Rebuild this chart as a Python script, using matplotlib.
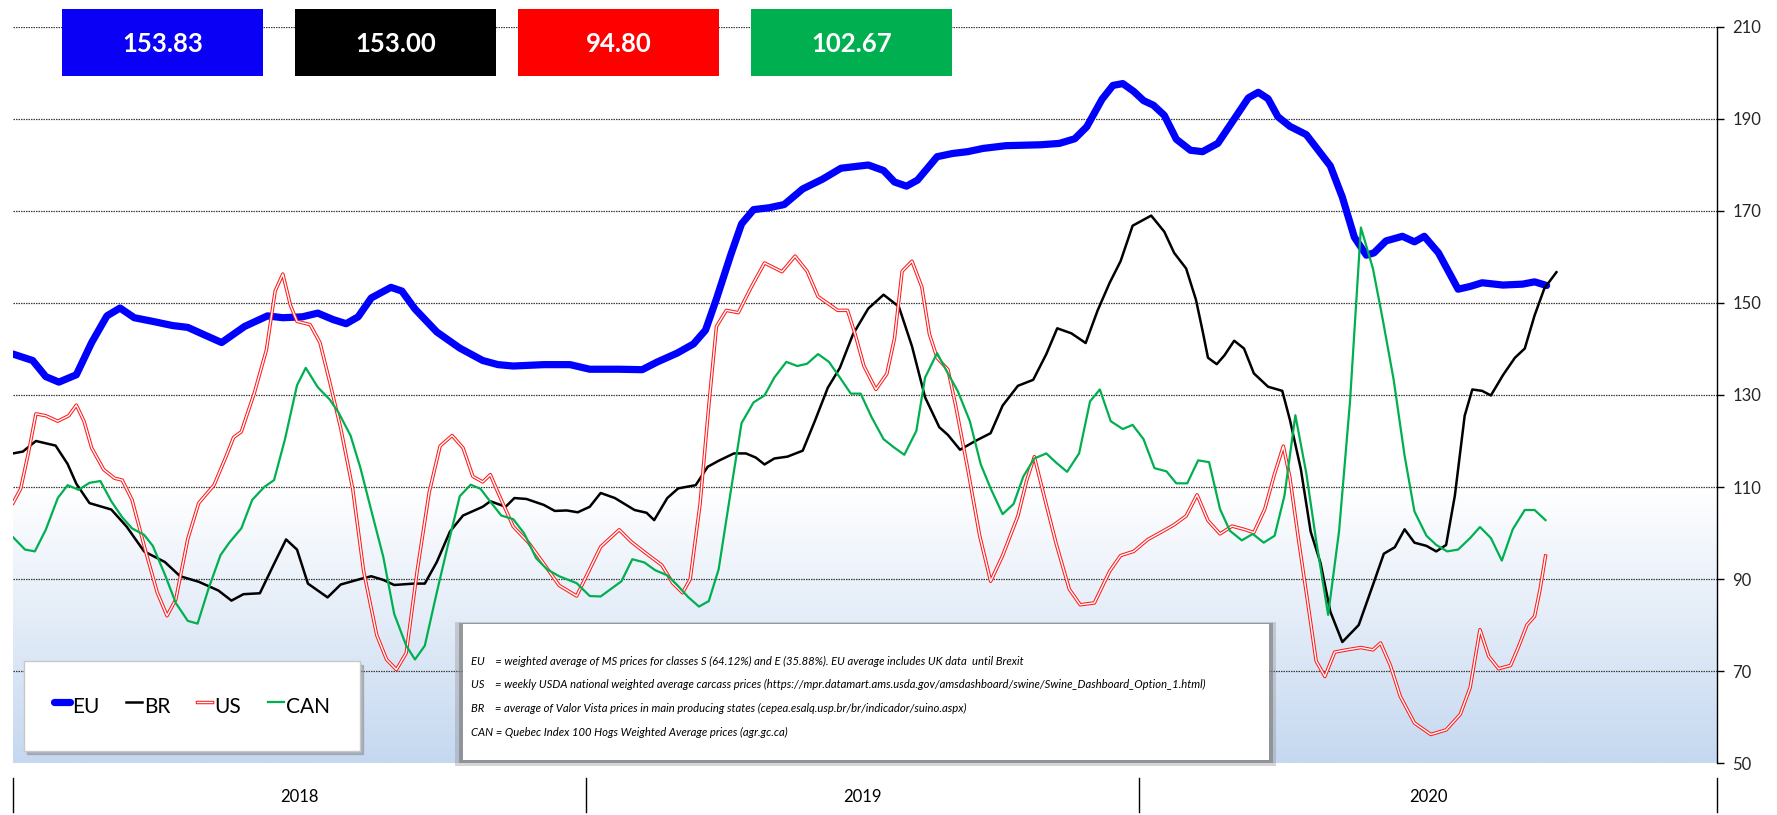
import numpy as np
import matplotlib
matplotlib.use("Agg")
import matplotlib.pyplot as plt
from matplotlib import font_manager as fm
from matplotlib.patches import Rectangle
from matplotlib.colors import LinearSegmentedColormap
import matplotlib.patheffects as pe

# ---------------- data ----------------
series_names = ["EU", "BR", "US", "CAN"]
latest_values = [153.83, 153.00, 94.80, 102.67]
years = ["2018", "2019", "2020"]
year_bounds = [0, 52.5, 103.1, 156]          # week positions of the year separators
y_ticks = [50, 70, 90, 110, 130, 150, 170, 190, 210]

eu_weeks = [0.0, 1.8, 3.0, 4.2, 5.8, 7.2, 8.6, 9.8, 11.1, 12.8, 14.6, 16.0, 17.4, 19.1, 21.2,
            23.3, 24.7, 26.5, 27.9, 29.3, 30.5, 31.6, 32.8, 34.6, 35.6, 36.8, 38.8, 40.9, 43.0,
            44.4, 45.8, 48.6, 51.0, 52.8, 55.5, 57.6, 59.0, 60.8, 62.3, 63.4, 64.4, 65.7, 66.7,
            67.8, 69.2, 70.6, 72.3, 74.1, 75.8, 78.3, 79.7, 80.7, 81.8, 82.8, 84.6, 86.0, 87.4,
            88.8, 90.9, 94.1, 95.8, 97.2, 98.3, 99.7, 100.7, 101.6, 102.6, 103.5, 104.4, 105.4,
            106.5, 107.8, 108.9, 110.3, 111.8, 113.1, 114.0, 114.9, 115.8, 116.9, 118.4, 119.5,
            120.6, 121.7, 122.8, 123.9, 124.6, 125.7, 127.2, 128.3, 129.2, 130.5, 132.3, 133.4,
            134.5, 136.4, 138.2, 139.3, 140.4]
eu_values = [138.9, 137.5, 134.0, 132.8, 134.4, 141.4, 147.2, 148.9, 146.8, 146.0, 145.1, 144.7,
             143.2, 141.4, 144.9, 147.2, 146.8, 147.0, 147.8, 146.4, 145.5, 147.0, 151.1, 153.4,
             152.6, 148.7, 143.7, 140.2, 137.5, 136.6, 136.3, 136.6, 136.6, 135.6, 135.6, 135.5,
             137.2, 139.1, 141.1, 144.1, 150.9, 160.4, 167.2, 170.3, 170.7, 171.4, 174.8, 176.9,
             179.3, 180.0, 178.8, 176.3, 175.4, 176.7, 181.8, 182.5, 182.9, 183.6, 184.2, 184.4,
             184.7, 185.7, 188.3, 194.3, 197.3, 197.7, 196.0, 194.0, 193.0, 190.8, 185.6, 183.2,
             182.9, 184.7, 190.0, 194.6, 195.8, 194.4, 190.5, 188.4, 186.6, 183.2, 179.8, 173.0,
             164.3, 160.4, 160.9, 163.5, 164.5, 163.3, 164.5, 160.9, 153.0, 153.6, 154.4, 153.9,
             154.1, 154.6, 153.8]

br_weeks = [0.0, 0.9, 2.1, 3.9, 5.0, 5.8, 7.0, 9.0, 10.4, 12.0, 13.9, 15.3, 17.0, 18.8, 20.0,
            21.1, 22.6, 23.9, 25.0, 26.0, 27.0, 28.8, 30.0, 31.8, 32.8, 33.9, 34.9, 36.7, 37.7,
            38.8, 40.0, 41.2, 43.0, 43.7, 45.1, 45.9, 47.0, 48.6, 49.6, 50.7, 51.7, 52.8, 53.8,
            55.1, 56.9, 58.0, 58.7, 59.9, 60.9, 62.5, 63.6, 64.6, 66.0, 67.1, 68.0, 68.8, 69.7,
            70.9, 72.3, 73.4, 74.6, 75.7, 76.9, 78.3, 79.7, 81.1, 82.3, 83.5, 84.8, 85.6, 86.7,
            88.1, 89.5, 90.6, 92.0, 93.4, 94.6, 95.6, 96.9, 98.2, 99.3, 100.4, 101.4, 102.5,
            104.2, 105.4, 106.3, 107.4, 108.3, 108.9, 109.4, 110.2, 110.9, 111.8, 112.7, 113.6,
            114.9, 116.2, 116.9, 117.9, 118.8, 119.7, 120.6, 121.7, 123.2, 124.5, 125.5, 126.5,
            127.4, 128.3, 129.4, 130.3, 131.2, 132.0, 132.9, 133.6, 134.5, 135.3, 136.4, 137.5,
            138.4, 139.3, 140.2, 141.3]
br_values = [117.3, 117.7, 120.0, 119.0, 115.0, 110.7, 106.5, 105.1, 101.4, 96.0, 93.7, 90.6,
             89.4, 87.5, 85.3, 86.7, 86.9, 93.3, 98.6, 96.4, 89.0, 86.0, 88.8, 90.0, 90.6, 89.8,
             88.7, 89.0, 89.0, 93.7, 100.3, 103.8, 105.7, 106.9, 105.7, 107.6, 107.4, 106.1,
             104.8, 104.9, 104.5, 105.7, 108.7, 107.6, 105.0, 104.4, 102.8, 107.6, 109.7, 110.4,
             114.4, 115.7, 117.3, 117.3, 116.4, 114.9, 116.2, 116.6, 117.9, 124.3, 131.6, 135.9,
             143.2, 148.8, 151.8, 149.2, 140.6, 129.5, 123.0, 121.3, 118.1, 120.0, 121.7, 127.7,
             132.0, 133.3, 138.9, 144.5, 143.4, 141.3, 148.4, 154.4, 159.1, 166.8, 169.0, 165.5,
             160.9, 157.5, 150.7, 144.0, 138.1, 136.7, 138.6, 141.8, 140.1, 134.7, 131.8, 130.9,
             124.6, 113.9, 100.3, 93.5, 82.9, 76.3, 80.0, 88.7, 95.5, 96.9, 100.8, 97.9, 97.2,
             96.0, 97.4, 108.1, 125.5, 131.2, 130.9, 129.9, 134.3, 138.1, 140.1, 147.3, 153.2,
             156.7]

us_weeks = [0.0, 0.7, 1.4, 2.1, 3.0, 4.1, 5.1, 5.8, 6.5, 7.2, 8.3, 9.3, 10.0, 10.9, 12.1, 13.2,
            14.1, 14.9, 16.0, 17.0, 18.4, 19.5, 20.2, 20.9, 22.1, 23.2, 24.0, 24.7, 25.4, 26.0,
            27.2, 28.1, 29.0, 30.0, 31.1, 32.1, 33.3, 34.2, 35.1, 36.0, 37.0, 38.1, 39.1, 40.2,
            41.2, 42.1, 43.0, 43.7, 44.4, 45.8, 47.2, 48.6, 50.0, 51.6, 52.4, 53.8, 55.5, 56.6,
            58.0, 59.4, 60.4, 61.3, 62.0, 62.9, 63.7, 64.4, 65.3, 66.4, 67.6, 68.8, 70.4, 71.6,
            72.7, 73.7, 75.5, 76.4, 77.1, 77.9, 79.0, 80.0, 80.7, 81.4, 82.3, 83.2, 83.9, 84.6,
            85.6, 86.3, 87.4, 88.5, 89.5, 90.6, 92.0, 92.8, 93.5, 94.4, 95.5, 96.7, 97.7, 99.0,
            100.4, 101.4, 102.6, 103.9, 105.2, 106.3, 107.4, 108.4, 109.4, 110.5, 111.6, 112.7,
            113.6, 114.6, 115.5, 116.3, 116.9, 117.7, 118.6, 119.3, 120.1, 121.0, 122.1, 123.4,
            124.5, 125.2, 126.1, 127.0, 128.3, 129.8, 131.2, 132.5, 133.4, 134.3, 135.1, 136.0,
            137.1, 137.8, 138.6, 139.3, 139.8, 140.3]
us_values = [106.5, 109.6, 117.3, 125.9, 125.5, 124.3, 125.5, 127.8, 124.3, 118.5, 113.8, 111.9,
             111.5, 107.2, 96.4, 87.1, 82.0, 85.5, 98.7, 106.5, 110.4, 116.6, 120.8, 122.0, 130.5,
             139.8, 152.6, 156.3, 149.5, 146.0, 145.3, 141.4, 132.8, 122.8, 109.6, 91.7, 77.8,
             72.5, 70.3, 73.9, 91.7, 108.8, 118.9, 121.2, 118.5, 112.3, 111.1, 112.7, 108.8, 101.4,
             97.9, 93.3, 88.6, 86.3, 90.2, 97.0, 100.7, 98.1, 95.5, 93.0, 89.1, 87.0, 90.0, 106.3,
             127.7, 144.9, 148.4, 147.9, 153.5, 158.7, 156.8, 160.2, 156.9, 151.4, 148.4, 148.4,
             143.2, 136.3, 131.2, 134.6, 142.3, 156.9, 159.1, 153.5, 143.2, 138.1, 135.5, 127.7,
             114.0, 99.4, 89.5, 95.1, 103.7, 111.4, 116.6, 108.0, 97.7, 87.8, 84.4, 84.8, 91.7,
             95.1, 96.0, 98.6, 100.3, 101.8, 103.7, 108.3, 102.7, 99.8, 101.5, 100.8, 100.1, 105.2,
             112.9, 118.9, 112.0, 98.4, 83.8, 72.2, 68.8, 74.1, 74.6, 75.1, 74.6, 76.1, 71.2, 64.5,
             58.7, 56.2, 57.2, 60.6, 66.4, 79.0, 73.2, 70.5, 71.2, 75.1, 80.0, 81.9, 87.7, 95.0]

can_weeks = [0.0, 1.1, 2.0, 3.0, 4.1, 5.0, 6.0, 7.0, 8.0, 9.0, 10.0, 10.9, 12.0, 12.8, 13.9,
             14.9, 16.0, 16.9, 17.9, 19.0, 19.8, 20.9, 21.9, 23.0, 23.9, 24.9, 26.0, 26.8, 27.9,
             29.0, 29.8, 30.9, 31.8, 32.8, 33.9, 34.9, 36.0, 36.8, 37.7, 38.8, 39.8, 40.9, 41.9,
             42.8, 43.8, 44.7, 45.8, 46.8, 47.9, 48.9, 50.0, 51.6, 52.8, 53.8, 55.7, 56.7, 57.8,
             58.8, 59.9, 60.8, 61.8, 62.8, 63.7, 64.6, 65.7, 66.7, 67.8, 68.8, 69.7, 70.8, 71.8,
             72.7, 73.7, 74.7, 75.7, 76.7, 77.6, 78.6, 79.7, 80.6, 81.6, 82.7, 83.5, 84.6, 85.5,
             86.5, 87.6, 88.6, 89.5, 90.6, 91.6, 92.5, 93.5, 94.6, 95.5, 96.5, 97.6, 98.6, 99.5,
             100.5, 101.6, 102.5, 103.5, 104.5, 105.6, 106.5, 107.5, 108.5, 109.5, 110.5, 111.4,
             112.5, 113.5, 114.5, 115.5, 116.4, 117.4, 118.4, 119.3, 120.4, 121.4, 122.4, 123.4,
             124.5, 125.4, 126.4, 127.4, 128.3, 129.4, 130.3, 131.3, 132.3, 133.4, 134.3, 135.3,
             136.3, 137.3, 138.4, 139.3, 140.3]
can_values = [99.1, 96.4, 96.0, 100.7, 107.6, 110.4, 109.4, 110.9, 111.3, 106.9, 103.4, 101.0,
              99.6, 97.2, 91.0, 84.8, 80.9, 80.3, 87.9, 95.2, 97.9, 101.0, 107.2, 110.0, 111.5,
              120.4, 132.1, 135.9, 131.7, 129.0, 126.2, 121.2, 114.2, 104.9, 94.8, 82.4, 75.5,
              72.5, 75.5, 87.1, 97.2, 108.0, 110.5, 109.6, 106.5, 103.8, 103.0, 99.9, 94.5, 92.1,
              90.6, 89.1, 86.3, 86.2, 89.5, 94.3, 93.6, 91.9, 90.8, 88.7, 86.1, 84.0, 85.2, 92.1,
              108.9, 123.9, 128.4, 129.9, 133.8, 137.2, 136.3, 136.8, 138.9, 137.2, 133.8, 130.3,
              130.3, 125.2, 120.4, 118.7, 117.0, 122.2, 133.8, 139.1, 135.1, 130.8, 124.3, 114.9,
              109.7, 104.1, 106.3, 112.3, 116.2, 117.3, 115.3, 113.3, 117.3, 128.6, 131.2, 124.3,
              122.6, 123.5, 120.4, 114.1, 113.4, 110.8, 110.8, 115.8, 115.4, 105.2, 100.5, 98.4,
              99.8, 97.9, 99.4, 108.1, 125.6, 113.0, 98.4, 82.2, 100.4, 128.5, 166.4, 157.5,
              146.4, 133.3, 116.8, 104.7, 99.4, 97.4, 96.0, 96.4, 98.9, 101.3, 98.9, 94.0, 100.8,
              105.0, 105.0, 102.8]

notes = [
    "EU    = weighted average of MS prices for classes S (64.12%) and E (35.88%). EU average includes UK data  until Brexit",
    "US    = weekly USDA national weighted average carcass prices (https://mpr.datamart.ams.usda.gov/amsdashboard/swine/Swine_Dashboard_Option_1.html)",
    "BR    = average of Valor Vista prices in main producing states (cepea.esalq.usp.br/br/indicador/suino.aspx)",
    "CAN = Quebec Index 100 Hogs Weighted Average prices (agr.gc.ca)",
]

# ---------------- fonts ----------------
def pick(*names):
    for n in names:
        try:
            fm.findfont(fm.FontProperties(family=n), fallback_to_default=False)
            return n
        except Exception:
            pass
    return "DejaVu Sans"

FONT = pick("Liberation Sans Narrow", "Lato", "Liberation Sans")
NARROW = FONT == "Liberation Sans Narrow"
if NARROW:
    fs_tick, fs_year, fs_box, fs_leg, fs_note = 14, 14, 21, 17, 9.8
else:
    fs_tick, fs_year, fs_box, fs_leg, fs_note = 12, 12, 18.5, 15, 8.15
plt.rcParams["font.family"] = [FONT, "DejaVu Sans"]

# ---------------- figure ----------------
W, H = 1777, 815
fig = plt.figure(figsize=(W / 100, H / 100), dpi=100)
fig.patch.set_facecolor("white")
ax = fig.add_axes([13 / W, 1 - 763 / H, 1704 / W, 736 / H])
ax.set_xlim(year_bounds[0], year_bounds[-1])
ax.set_ylim(50, 210)
ax.set_facecolor("white")

# gradient band in the lower part
cmap = LinearSegmentedColormap.from_list("bg", ["#ffffff", "#c5d8f0"])
grad = np.linspace(0, 1, 256).reshape(-1, 1)
ax.imshow(grad, extent=(year_bounds[0], year_bounds[-1], 50, 110), origin="upper",
          aspect="auto", cmap=cmap, zorder=0, interpolation="bilinear")

for v in y_ticks[1:]:
    ax.axhline(v, color="#3a3a3a", lw=0.9, ls=(0, (1.2, 0.8)), zorder=1)

# series
ax.plot(eu_weeks, eu_values, color="#0000ff", lw=5.2, solid_capstyle="round",
        solid_joinstyle="round", zorder=3, label=series_names[0])
ax.plot(br_weeks, br_values, color="black", lw=1.8, solid_joinstyle="round",
        zorder=4, label=series_names[1])
ax.plot(us_weeks, us_values, color="white", lw=1.0, solid_joinstyle="round", zorder=5,
        path_effects=[pe.Stroke(linewidth=2.5, foreground="#ff1a1a"), pe.Normal()],
        label=series_names[2])
ax.plot(can_weeks, can_values, color="#00b050", lw=1.6, zorder=6, label=series_names[3])

# axes styling
for s in ("left", "top", "bottom"):
    ax.spines[s].set_visible(False)
ax.spines["right"].set_color("black")
ax.spines["right"].set_linewidth(1.0)
ax.yaxis.tick_right()
ax.set_yticks(y_ticks)
ax.tick_params(axis="y", direction="out", length=5, width=1, pad=6,
               labelsize=fs_tick, labelcolor="#262626", color="black")
ax.set_xticks([])

# year separators + labels
xt = ax.get_xaxis_transform()
for b in year_bounds:
    ax.plot([b, b], [-0.02, -0.067], transform=xt, color="black", lw=1, clip_on=False)
for i, y in enumerate(years):
    mid = (year_bounds[i] + year_bounds[i + 1]) / 2
    ax.text(mid, -0.046, y, transform=xt, ha="center", va="center",
            fontsize=fs_year, color="black")

# legend
leg = ax.legend(loc="lower left", bbox_to_anchor=(11 / 1704, 12 / 736, 336 / 1704, 87 / 736),
                mode="expand", ncol=4, frameon=True, fancybox=False, borderaxespad=0,
                shadow={"color": "#8a8a8a", "alpha": 0.5, "ox": 2.5, "oy": -2.5},
                facecolor="white", edgecolor="#c8c8c8", framealpha=1,
                borderpad=1.45, handlelength=0.75, handleheight=1.8, handletextpad=0.1,
                columnspacing=1.0, fontsize=fs_leg)
leg.set_zorder(10)

# top value boxes
box_colors = ["#0a00f5", "#000000", "#ff0000", "#00b050"]
box_left = [62, 295, 518, 751]
for c, x0, val in zip(box_colors, box_left, latest_values):
    fig.add_artist(Rectangle((x0 / W, 1 - 76 / H), 201 / W, 67 / H, transform=fig.transFigure,
                             facecolor=c, edgecolor="none", zorder=5))
    fig.text((x0 + 100.5) / W, 1 - 44 / H, f"{val:.2f}", ha="center", va="center",
             color="white", fontsize=fs_box, fontweight="bold", zorder=6)

# notes box
bx0, by0, bx1, by1 = 463, 624, 1269, 760
fig.add_artist(Rectangle(((bx0 - 8) / W, 1 - (by1 + 6) / H), (bx1 - bx0 + 15) / W,
                         (by1 - by0 + 8) / H, transform=fig.transFigure,
                         facecolor="#8a8a8a", alpha=0.35, edgecolor="none", zorder=5))
fig.add_artist(Rectangle(((bx0 - 4) / W, 1 - (by1 + 3) / H), (bx1 - bx0 + 8) / W,
                         (by1 - by0 + 4) / H, transform=fig.transFigure,
                         facecolor="#7a7a7a", alpha=0.6, edgecolor="none", zorder=5))
fig.add_artist(Rectangle((bx0 / W, 1 - by1 / H), (bx1 - bx0) / W, (by1 - by0) / H,
                         transform=fig.transFigure, facecolor="white", edgecolor="none",
                         zorder=5))
for k, line in enumerate(notes):
    fig.text(471 / W, 1 - (661 + 23.7 * k) / H, line, ha="left", va="center",
             fontsize=fs_note, fontstyle="italic", color="black", zorder=6)

fig.savefig("out.png", dpi=100, facecolor="white")
